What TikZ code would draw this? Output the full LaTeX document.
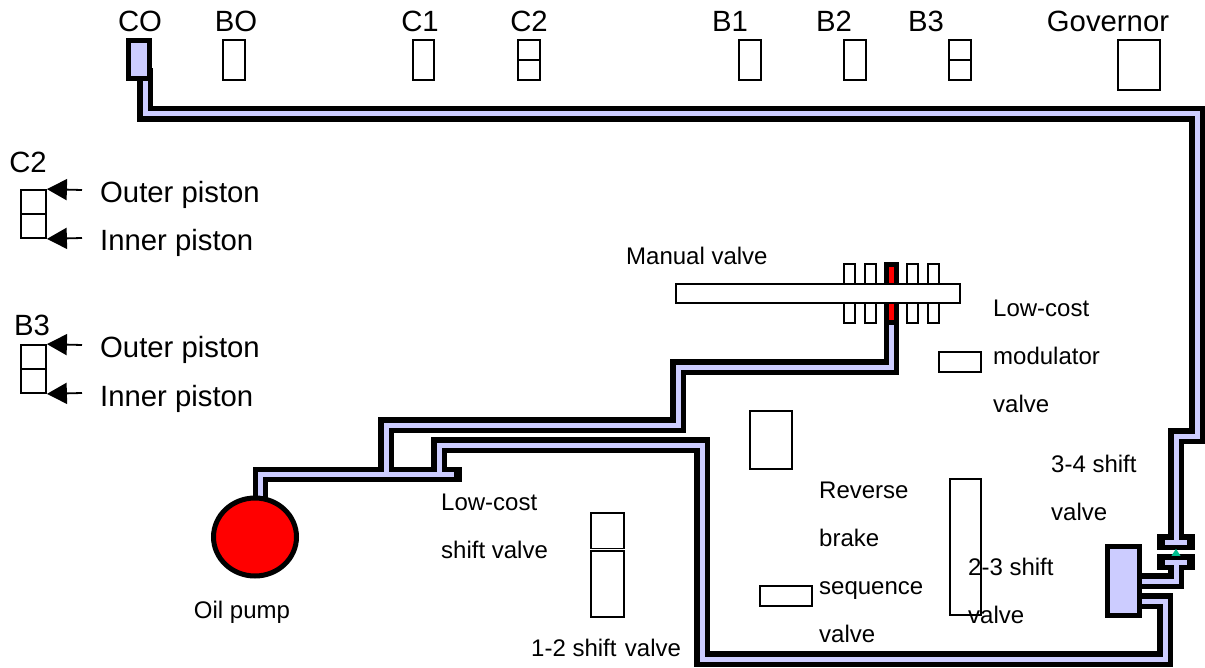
\documentclass[tikz,border=0pt]{standalone}
\usepackage{fontspec}
\setmainfont{Liberation Sans}
\usepackage{xcolor}
\usetikzlibrary{arrows.meta, positioning, shapes.geometric}
\definecolor{oilblue}{HTML}{CCCCFF}
\definecolor{checkgreen}{HTML}{00C090}
\tikzset{
  lab/.style={inner sep=0pt, anchor=base, font=\fontsize{29.3}{32}\selectfont},
  txt/.style={inner sep=0pt, anchor=west, align=left, font=\fontsize{24}{48}\selectfont},
  valvebox/.style={draw, fill=white, line width=1.8pt, inner sep=0pt, minimum width=#1},
  oilbox/.style={draw, fill=oilblue, line width=5pt, inner sep=0pt},
  pipeout/.style={draw=black, line width=15.5pt, line cap=rect, line join=miter},
  pipein/.style={draw=oilblue, line width=5pt, line join=miter}
}
\begin{document}
\begin{tikzpicture}[x=1pt, y=-1pt, >=Stealth]
  \useasboundingbox (0,0) rectangle (1205,668);

  % Top row
  \node[oilbox, minimum width=21pt, minimum height=38pt] (CO) at (139,60) {};
  \node[valvebox=22pt, minimum height=40pt] (BO) at (234,60) {};
  \node[valvebox=21pt, minimum height=40pt] (C1) at (423.5,60) {};
  \node[valvebox=22pt, minimum height=20pt] (C2a) at (529,50) {};
  \node[valvebox=22pt, minimum height=20pt] (C2b) at (529,70) {};
  \node[valvebox=22pt, minimum height=40pt] (B1) at (750,60) {};
  \node[valvebox=22pt, minimum height=40pt] (B2) at (855,60) {};
  \node[valvebox=22pt, minimum height=20pt] (B3a) at (960,50) {};
  \node[valvebox=22pt, minimum height=20pt] (B3b) at (960,70) {};
  \node[valvebox=42pt, minimum height=50pt] (Gov) at (1139,65) {};
  \node[lab] (COl) at (140,32) {CO};
  \node[lab] (BOl) at (236,32) {BO};
  \node[lab] (C1l) at (420,32) {C1};
  \node[lab] (C2l) at (529,32) {C2};
  \node[lab] (B1l) at (730,32) {B1};
  \node[lab] (B2l) at (834,32) {B2};
  \node[lab] (B3l) at (926,32) {B3};
  \node[lab] (Govl) at (1108,32) {Governor};

  % Legend
  \node[lab] (C2t) at (28,173) {C2};
  \node[valvebox=25pt, minimum height=24pt] (C2o) at (33.5,202) {};
  \node[valvebox=25pt, minimum height=24pt] (C2i) at (33.5,226) {};
  \node[lab] (B3t) at (32,335) {B3};
  \node[valvebox=25pt, minimum height=24pt] (B3o) at (33.5,357) {};
  \node[valvebox=25pt, minimum height=24pt] (B3i) at (33.5,381) {};
  \coordinate (t1) at (82,190);
  \coordinate (t2) at (82,238);
  \coordinate (t3) at (82,345);
  \coordinate (t4) at (82,393);
  \foreach \from/\to in {t1/C2o.north east, t2/C2i.south east, t3/B3o.north east, t4/B3i.south east}
    \draw[-{Triangle[length=20pt,width=21pt]}, line width=1.8pt] (\from) -- (\to);
  \node[lab, anchor=base west] (p1) at (100,203) {Outer piston};
  \node[lab, anchor=base west] (p2) at (100,251) {Inner piston};
  \node[lab, anchor=base west] (p3) at (100,358) {Outer piston};
  \node[lab, anchor=base west] (p4) at (100,406) {Inner piston};

  % Oil lines
  \coordinate (a1) at (145,76);
  \coordinate (a2) at (145,114);
  \coordinate (a3) at (1197,114);
  \coordinate (a4) at (1197,436);
  \coordinate (a5) at (1176,436);
  \coordinate (a6) at (1176,542);
  \coordinate (capAl) at (1165,542);
  \coordinate (capAr) at (1187,542);
  \coordinate (capBl) at (1165,562);
  \coordinate (capBr) at (1187,562);
  \coordinate (b1) at (1176,562);
  \coordinate (b2) at (1176,581);
  \coordinate (b3) at (1135,581);
  \coordinate (c1) at (1135,601);
  \coordinate (c2) at (1165,601);
  \coordinate (c3) at (1165,659);
  \coordinate (c4) at (702,659);
  \coordinate (c5) at (702,445);
  \coordinate (c6) at (439,445);
  \coordinate (c7) at (439,474.5);
  \coordinate (d1) at (260.5,530);
  \coordinate (d2) at (260.5,474.5);
  \coordinate (d3) at (454,474.5);
  \coordinate (e1) at (386,474.5);
  \coordinate (e2) at (386,425);
  \coordinate (e3) at (678,425);
  \coordinate (e4) at (678,367);
  \coordinate (e5) at (891.5,367);
  \coordinate (e6) at (891.5,318);
  \def\oillines{
    (a1) -- (a2) -- (a3) -- (a4) -- (a5) -- (a6)
    (capAl) -- (capAr)
    (capBl) -- (capBr)
    (b1) -- (b2) -- (b3)
    (c1) -- (c2) -- (c3) -- (c4) -- (c5) -- (c6) -- (c7)
    (d1) -- (d2) -- (d3)
    (e1) -- (e2) -- (e3) -- (e4) -- (e5) -- (e6)
  }
  \draw[pipeout] \oillines;
  \draw[pipein] \oillines;
  \node[oilbox, minimum width=21pt, minimum height=38pt] at (CO) {};
  \node[oilbox, minimum width=32pt, minimum height=69pt] (gear) at (1123.5,581) {};
  \node[isosceles triangle, isosceles triangle apex angle=80, isosceles triangle stretches,
    shape border rotate=90, fill=checkgreen, anchor=lower side,
    inner sep=0pt, minimum height=7pt, minimum width=9pt] (check) at (1176,556) {};

  % Pump
  \node[ellipse, draw, fill=red, line width=5pt, minimum width=83pt, minimum height=78pt, inner sep=0pt] (pump) at (255,537) {};
  \node[inner sep=0pt, font=\fontsize{24}{30}\selectfont] (pumpl) at (242,612) {Oil pump};

  % Manual valve
  \node[draw=black, fill=red, line width=5pt, minimum width=10pt, minimum height=58pt, inner sep=0pt] (manred) at (891.5,293.5) {};
  \foreach \x in {849.5,870.5,912.5,933.5} {
    \node[valvebox=11pt, minimum height=20pt] (mt\x) at (\x,274) {};
    \node[valvebox=11pt, minimum height=20pt] (mb\x) at (\x,313) {};
  }
  \node[valvebox=284pt, minimum height=19pt] (spool) at (818,293.5) {};
  \node[txt] (manl) at (626,256) {Manual valve};

  % Valves
  \node[valvebox=42pt, minimum height=20pt] (modv) at (960,362) {};
  \node[valvebox=42pt, minimum height=58pt] (relv) at (771,440) {};
  \node[valvebox=52pt, minimum height=20pt] (revv) at (786,596) {};
  \node[valvebox=31pt, minimum height=136pt] (v23) at (965.5,547) {};
  \node[valvebox=33pt, minimum height=35.5pt] (v12a) at (607.5,530.75) {};
  \node[valvebox=33pt, minimum height=66pt] (v12b) at (607.5,584) {};
  \node[txt] (lowshift) at (441,526) {Low-cost\\shift valve};
  \node[txt] (lowmod) at (993,356) {Low-cost\\modulator\\valve};
  \node[txt] (v34l) at (1051,488) {3-4 shift\\valve};
  \node[txt] (v23l) at (968,591) {2-3 shift\\valve};
  \node[txt] (revl) at (819,562) {Reverse\\brake\\sequence\\valve};
  \node[txt] (v12l) at (531,648) {1-2 shift\hspace{1.7pt}\ valve};
\end{tikzpicture}
\end{document}
